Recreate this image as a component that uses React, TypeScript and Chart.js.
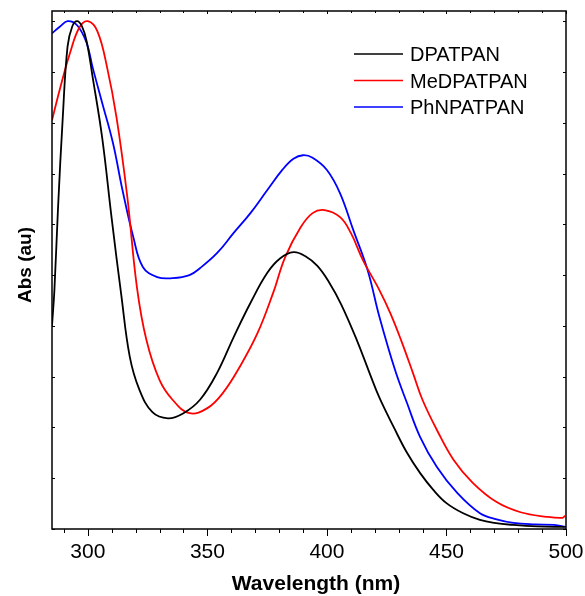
import React, { useEffect, useRef } from 'react';
import { Chart, registerables } from 'chart.js';

Chart.register(...registerables);

const FONT = '"Liberation Sans", Arial, Helvetica, sans-serif';

const seriesNames = ['DPATPAN', 'MeDPATPAN', 'PhNPATPAN'];
const seriesColors = ['#000000', '#ff0000', '#0000ff'];

const dpatpanWl = [285, 286, 287.5, 289.5, 291.5, 293.5, 295.5, 297.5, 299.5, 302, 306, 310, 314, 317.5, 321.5, 327, 333.5, 340, 347, 354, 361, 368, 375, 380.5, 386, 391, 396, 401, 406, 412.5, 418, 422, 428, 433.5, 439, 444.5, 450, 457, 464, 470, 478, 488, 499.5];
const dpatpanAbs = [0.40, 0.47, 0.63, 0.81, 0.95, 0.99, 1.0, 0.99, 0.96, 0.89, 0.77, 0.61, 0.46, 0.34, 0.275, 0.23, 0.218, 0.228, 0.255, 0.307, 0.378, 0.445, 0.504, 0.533, 0.545, 0.537, 0.518, 0.485, 0.442, 0.372, 0.305, 0.258, 0.20, 0.15, 0.11, 0.077, 0.051, 0.031, 0.018, 0.012, 0.008, 0.005, 0.004];

const medpatpanWl = [285, 288.5, 292.5, 296.5, 300, 304, 308, 312, 316.5, 320.5, 324.5, 330, 335.5, 342.5, 350, 356.5, 363.5, 371, 377.5, 382.5, 389, 394, 399, 405.5, 410, 415, 422, 426.5, 431, 436, 440, 446, 453, 461, 471, 481, 492, 498.5, 499.6];
const medpatpanAbs = [0.805, 0.87, 0.937, 0.988, 1.0, 0.98, 0.91, 0.81, 0.654, 0.477, 0.372, 0.293, 0.254, 0.228, 0.238, 0.268, 0.319, 0.386, 0.465, 0.535, 0.594, 0.622, 0.628, 0.614, 0.583, 0.53, 0.47, 0.425, 0.372, 0.307, 0.254, 0.195, 0.136, 0.091, 0.053, 0.033, 0.024, 0.022, 0.026];

const phnpatpanWl = [285, 288.5, 291.5, 295.5, 299.5, 302, 306, 310.5, 314.5, 319, 323, 329, 335.5, 342.5, 347, 354, 361, 368, 375, 381.5, 386, 390, 394, 400, 405.5, 411, 417, 422, 428.5, 433.5, 439, 446, 454.5, 464, 471, 478, 487, 495, 500];
const phnpatpanAbs = [0.976, 0.99, 1.0, 0.992, 0.957, 0.909, 0.839, 0.76, 0.667, 0.575, 0.516, 0.496, 0.494, 0.50, 0.514, 0.543, 0.583, 0.622, 0.667, 0.708, 0.729, 0.736, 0.731, 0.707, 0.661, 0.589, 0.51, 0.417, 0.313, 0.248, 0.181, 0.122, 0.071, 0.031, 0.019, 0.012, 0.009, 0.008, 0.004];

const xMin = 285;
const xMax = 500;
const xTickValues = [300, 350, 400, 450, 500];
const xMinorTickValues = [290, 300, 310, 320, 330, 340, 350, 360, 370, 380, 390, 400, 410, 420, 430, 440, 450, 460, 470, 480, 490, 500];
const yMin = 0;
const yMax = 1.02;
const yTickValues = [0, 0.1, 0.2, 0.3, 0.4, 0.5, 0.6, 0.7, 0.8, 0.9, 1.0];

const xTitle = 'Wavelength (nm)';
const yTitle = 'Abs (au)';

const toPoints = (xs: number[], ys: number[]) => xs.map((x, i) => ({ x, y: ys[i] }));

const framePlugin = {
  id: 'frameAndLegend',
  afterDraw(chart: any) {
    const { ctx, chartArea, scales } = chart;
    const { left, right, top, bottom } = chartArea;
    const xs = scales.x;
    const ys = scales.y;
    ctx.save();
    ctx.strokeStyle = '#000';
    ctx.lineWidth = 1.5;
    ctx.strokeRect(left, top, right - left, bottom - top);
    ctx.lineWidth = 1;
    ctx.beginPath();
    xMinorTickValues.forEach((v) => {
      const px = Math.round(xs.getPixelForValue(v)) + 0.5;
      const major = xTickValues.includes(v);
      ctx.moveTo(px, bottom);
      ctx.lineTo(px, bottom + (major ? 7 : 4));
      ctx.moveTo(px, top);
      ctx.lineTo(px, top + (major ? 3 : 2));
    });
    yTickValues.forEach((v) => {
      const py = Math.round(ys.getPixelForValue(v)) + 0.5;
      ctx.moveTo(left, py);
      ctx.lineTo(left + 3, py);
      ctx.moveTo(right, py);
      ctx.lineTo(right - 3, py);
    });
    ctx.stroke();

    // axis titles
    ctx.fillStyle = '#000';
    ctx.font = `bold 21px ${FONT}`;
    ctx.textAlign = 'center';
    ctx.textBaseline = 'alphabetic';
    ctx.fillText(xTitle, (left + right) / 2 + 7, 590);
    ctx.save();
    ctx.translate(31, (top + bottom) / 2 - 5);
    ctx.rotate(-Math.PI / 2);
    ctx.font = `bold 19px ${FONT}`;
    ctx.fillText(yTitle, 0, 0);
    ctx.restore();

    // legend
    ctx.font = `20px ${FONT}`;
    ctx.textAlign = 'left';
    chart.data.datasets.forEach((ds: any, i: number) => {
      const rowY = top + 43 + i * 26.5;
      const x0 = right - 212;
      ctx.strokeStyle = ds.borderColor;
      ctx.lineWidth = 1.5;
      ctx.beginPath();
      ctx.moveTo(x0, rowY);
      ctx.lineTo(x0 + 49, rowY);
      ctx.stroke();
      ctx.fillStyle = '#000';
      ctx.fillText(ds.label, x0 + 56, rowY + 7);
    });
    ctx.restore();
  },
};

export default function App() {
  const canvasRef = useRef<HTMLCanvasElement | null>(null);

  useEffect(() => {
    const canvas = canvasRef.current;
    if (!canvas) return;
    const seriesData = [
      toPoints(dpatpanWl, dpatpanAbs),
      toPoints(medpatpanWl, medpatpanAbs),
      toPoints(phnpatpanWl, phnpatpanAbs),
    ];
    const chart = new Chart(canvas, {
      type: 'line',
      data: {
        datasets: seriesNames.map((name, i) => ({
          label: name,
          data: seriesData[i],
          borderColor: seriesColors[i],
          backgroundColor: seriesColors[i],
          borderWidth: 1.8,
          pointRadius: 0,
          fill: false,
          tension: 0.4,
        })),
      },
      options: {
        animation: false,
        responsive: false,
        devicePixelRatio: 1,
        layout: { padding: { top: 11, right: 19, left: 0, bottom: 0 } },
        plugins: { legend: { display: false }, tooltip: { enabled: false } },
        scales: {
          x: {
            type: 'linear',
            min: xMin,
            max: xMax,
            grid: { display: false },
            border: { display: false },
            afterBuildTicks: (s: any) => {
              s.ticks = xTickValues.map((v) => ({ value: v }));
            },
            afterFit: (s: any) => {
              s.height = 67;
              s.paddingLeft = 0;
              s.paddingRight = 0;
            },
            ticks: {
              color: '#000',
              font: { family: FONT, size: 21 },
              padding: 3,
              maxRotation: 0,
              autoSkip: false,
            },
          },
          y: {
            type: 'linear',
            min: yMin,
            max: yMax,
            grid: { display: false },
            border: { display: false },
            ticks: { display: false },
            afterFit: (s: any) => {
              s.width = 52;
              s.paddingTop = 0;
              s.paddingBottom = 0;
            },
          },
        },
      },
      plugins: [framePlugin],
    });
    return () => chart.destroy();
  }, []);

  return (
    <div style={{ position: 'absolute', left: 0, top: 0, width: 585, height: 596, background: '#fff' }}>
      <canvas ref={canvasRef} width={585} height={596} style={{ display: 'block' }} />
    </div>
  );
}
